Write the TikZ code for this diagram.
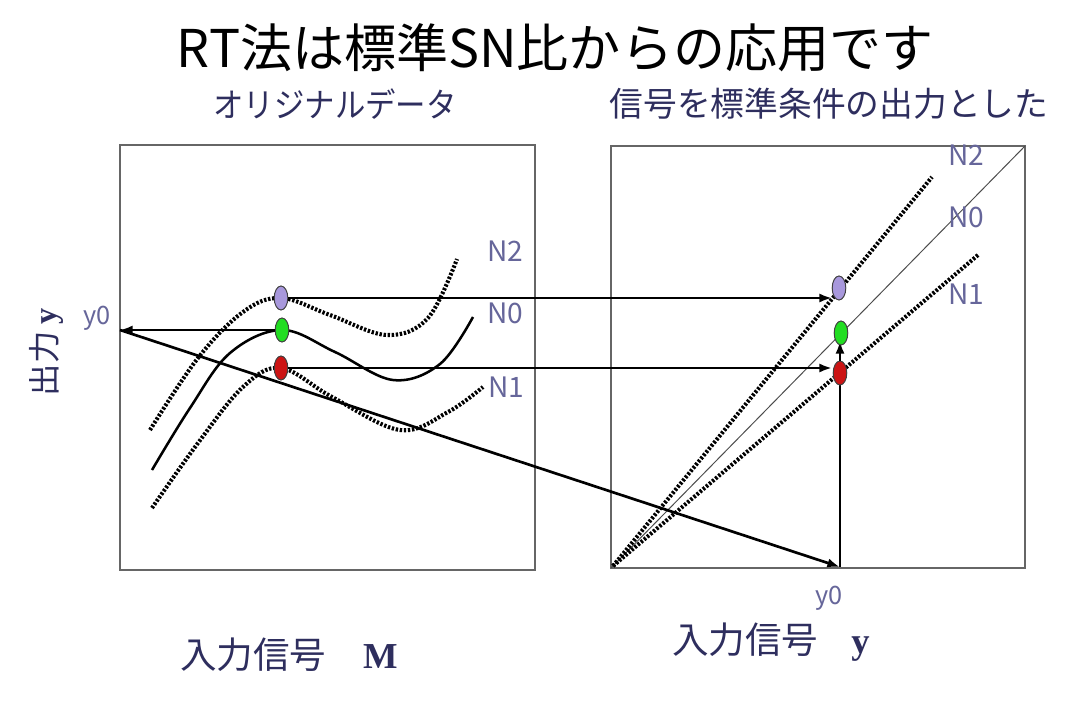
\documentclass[tikz,border=0pt]{standalone}
\usepackage{fontspec}
\setmainfont{Noto Sans CJK JP}
\newfontfamily\serifb{Liberation Serif}
\usetikzlibrary{arrows.meta,shapes.geometric}
\definecolor{navy}{HTML}{2E2E5E}
\definecolor{nlab}{HTML}{66669A}
\definecolor{lpurple}{HTML}{A898DC}
\definecolor{lgreen}{HTML}{22DD22}
\definecolor{lred}{HTML}{CC1414}
\begin{document}
\begin{tikzpicture}[x=0.025cm,y=-0.025cm,
  panel/.style={draw=black!60, line width=1.2pt},
  ncurve/.style={line width=1.8pt},
  ndotted/.style={line width=2.9pt, dash pattern=on 1.7pt off 1.2pt},
  conn/.style={line width=1.9pt, -{Latex[length=9pt,width=6.5pt]}},
  pt/.style={ellipse, draw=black!75, line width=0.7pt, inner sep=0pt, minimum width=0.34cm, minimum height=0.6cm},
  nlabel/.style={text=nlab, font=\fontsize{20}{20}\selectfont, inner sep=0pt},
  sub/.style={text=navy, font=\fontsize{24}{24}\selectfont, inner sep=0pt}
]
\useasboundingbox (0,0) rectangle (1080,703);
% titles
\node[font=\fontsize{37}{37}\selectfont, inner sep=0pt] (title) at (555,48) {RT法は標準SN比からの応用です};
\node[sub, xscale=0.9] (subL) at (335,104) {オリジナルデータ};
\node[sub] (subR) at (829,104) {信号を標準条件の出力とした};
% panels
\draw[panel] (120,145) rectangle (535,570);
\draw[panel] (611,146) rectangle (1025,568);
% left curves
\draw[ncurve] plot[smooth, tension=0.6] coordinates {(152,470) (190,408) (230,353) (282,330) (335,352) (393,380) (440,364) (473,317)};
\draw[ndotted] plot[smooth, tension=0.6] coordinates {(150,430) (198,358) (243,312) (281,298) (330,315) (387,335) (428,318) (457,259)};
\draw[ndotted] plot[smooth, tension=0.6] coordinates {(152,508) (198,443) (243,387) (281,368) (332,397) (400,430) (448,412) (483,387)};
% right lines
\draw[line width=0.7pt, black!70] (611,568) -- (1025,146);
\draw[ndotted] (613,566) -- (932,177);
\draw[ndotted] (613,566) -- (978,255);
% labels
\node[nlabel] (lN2) at (505,251) {N2};
\node[nlabel] (lN0) at (505,313) {N0};
\node[nlabel] (lN1) at (506,387) {N1};
\node[nlabel] (rN2) at (966,155) {N2};
\node[nlabel] (rN0) at (966,217) {N0};
\node[nlabel] (rN1) at (966,294) {N1};
% dots
\node[pt, fill=lpurple] (L2) at (281,298) {};
\node[pt, fill=lgreen] (L0) at (282,330) {};
\node[pt, fill=lred] (L1) at (281,368) {};
\coordinate (Y0) at (120,330);
\coordinate (B0) at (840,567);
% connectors
\draw[conn] (L2.east) -- (L2.east -| 832,0);
\draw[conn] (L1.east) -- (L1.east -| 832,0);
\draw[conn] (L0.west) -- (Y0);
\draw[conn] (Y0) -- (B0);
\draw[line width=1.9pt] (B0) -- (840,373);
\node[pt, fill=lpurple] (R2) at (839,288) {};
\node[pt, fill=lred] (R1) at (840,373) {};
\draw[conn] (R1.north) -- (840,341);
\node[pt, fill=lgreen] (R0) at (841,333) {};
% axis labels
\node[text=nlab, font=\fontsize{18}{18}\selectfont, inner sep=0pt] (y0L) at (97,318) {y0};
\node[text=nlab, font=\fontsize{18}{18}\selectfont, inner sep=0pt] (y0B) at (829,598) {y0};
\node[text=navy, rotate=90, font=\fontsize{23}{23}\selectfont, inner sep=0pt] (ylab) at (46,352) {出力 {\serifb\bfseries y}};
\node[text=navy, font=\fontsize{26}{26}\selectfont, inner sep=0pt, anchor=west] (xlabL) at (180,655) {入力信号\hspace{1em}{\serifb\bfseries M}};
\node[text=navy, font=\fontsize{26}{26}\selectfont, inner sep=0pt, anchor=west] (xlabR) at (672,642) {入力信号\hspace{0.9em}{\serifb\bfseries y}};
\end{tikzpicture}
\end{document}
